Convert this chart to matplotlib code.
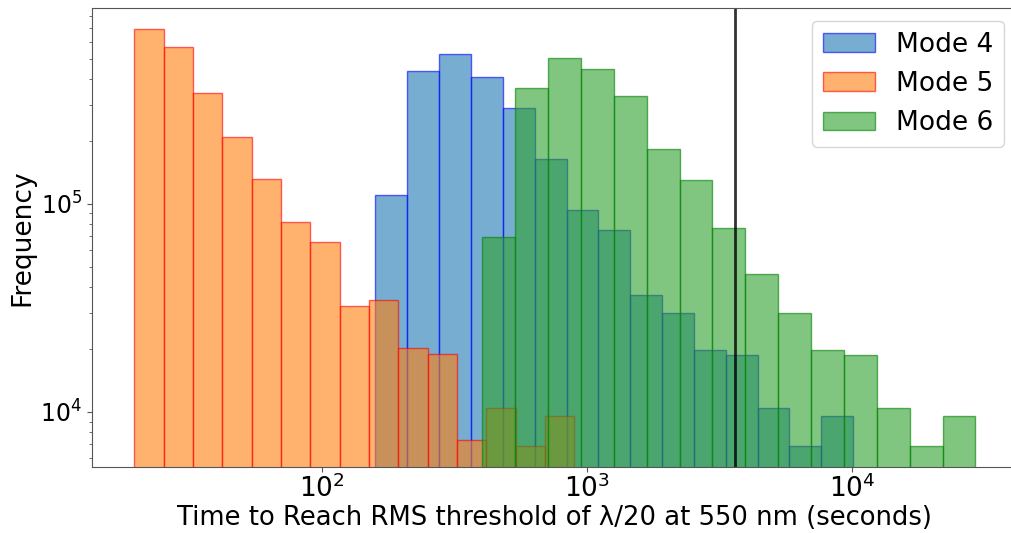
import numpy as np
import matplotlib
matplotlib.use("Agg")
import matplotlib.pyplot as plt
from matplotlib.ticker import NullLocator

# Histogram data (15 log-spaced bins per mode)

# Mode 4
m4_range = (159, 10090)
m4_counts = [110e3, 438e3, 523e3, 409e3, 290e3, 164e3, 93.5e3, 75.3e3,
             36.5e3, 29.8e3, 19.9e3, 18.7e3, 10.4e3, 6.88e3, 9.53e3]

# Mode 5
m5_range = (19.56, 895)
m5_counts = [692e3, 569e3, 343e3, 211e3, 132e3, 81.6e3, 65.6e3, 32.4e3,
             34.7e3, 20.3e3, 19.0e3, 7.36e3, 10.4e3, 6.87e3, 9.53e3]

# Mode 6
m6_range = (403, 29180)
m6_counts = [69.3e3, 362e3, 502e3, 444e3, 330e3, 183e3, 130e3, 76.7e3,
             45.9e3, 29.8e3, 19.9e3, 18.7e3, 10.4e3, 6.88e3, 9.53e3]

threshold = 3600  # one hour

series = [
    ("Mode 4", m4_range, m4_counts, "tab:blue", "blue"),
    ("Mode 5", m5_range, m5_counts, "tab:orange", "red"),
    ("Mode 6", m6_range, m6_counts, "tab:green", "green"),
]

fig = plt.figure(figsize=(10.12, 5.33), dpi=100)
ax = fig.add_axes([92 / 1012, 1 - 467 / 533, (1017.5 - 92) / 1012, (467 - 8) / 533])

for name, (lo, hi), counts, fc, ec in series:
    edges = np.logspace(np.log10(lo), np.log10(hi), len(counts) + 1)
    ax.hist(edges[:-1], bins=edges, weights=counts, color=fc, edgecolor=ec,
            alpha=0.6, linewidth=1, label=name)

ax.axvline(threshold, color="black", alpha=0.8, linewidth=2)

ax.set_xscale("log")
ax.set_yscale("log")
ax.set_xlim(10**1.132, 10**4.624)
ax.set_ylim(10**3.7356, 10**5.942)
ax.xaxis.set_minor_locator(NullLocator())

ax.set_xlabel("Time to Reach RMS threshold of λ/20 at 550 nm (seconds)",
              fontsize=18.6, labelpad=1)
ax.set_ylabel("Frequency", fontsize=19)
ax.tick_params(axis="x", labelsize=19, pad=2)
ax.tick_params(axis="y", labelsize=17)
ax.tick_params(which="both", color="#555555")
for sp in ax.spines.values():
    sp.set_color("#555555")

ax.legend(loc="upper right", fontsize=19)

fig.savefig("out.png", dpi=100)
